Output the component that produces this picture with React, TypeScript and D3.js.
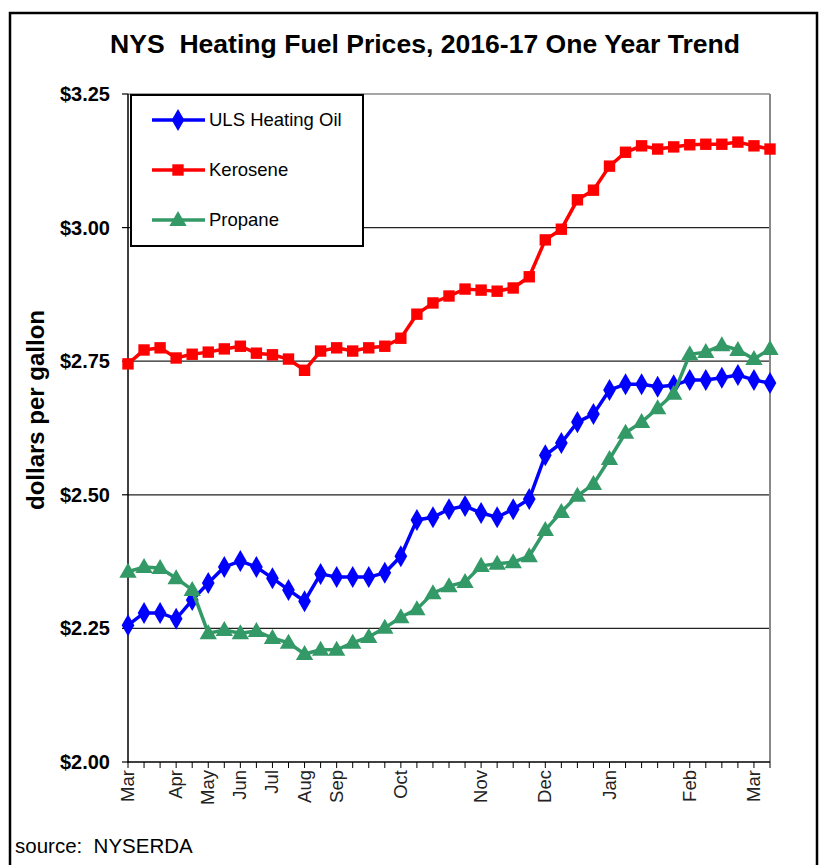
import React from "react";
import * as d3 from "d3";

const categories: string[] = [
  "Mar", "", "", "Apr", "", "May", "", "Jun", "", "Jul", "", "Aug", "", "Sep", "", "", "",
  "Oct", "", "", "", "", "Nov", "", "", "", "Dec", "", "", "", "Jan", "", "", "", "",
  "Feb", "", "", "", "Mar", "",
];

const heatingOil: number[] = [
  2.256, 2.279, 2.279, 2.268, 2.303, 2.335, 2.365, 2.376, 2.365, 2.344, 2.322, 2.301,
  2.352, 2.346, 2.346, 2.346, 2.354, 2.385, 2.453, 2.458, 2.473, 2.479, 2.466, 2.458,
  2.473, 2.492, 2.574, 2.597, 2.636, 2.651, 2.696, 2.707, 2.707, 2.702, 2.705, 2.715,
  2.715, 2.719, 2.724, 2.715, 2.709,
];

const kerosene: number[] = [
  2.745, 2.771, 2.775, 2.756, 2.763, 2.767, 2.773, 2.778, 2.765, 2.762, 2.754, 2.733,
  2.769, 2.775, 2.769, 2.775, 2.778, 2.793, 2.838, 2.859, 2.872, 2.885, 2.883, 2.881,
  2.887, 2.908, 2.977, 2.997, 3.052, 3.07, 3.115, 3.141, 3.153, 3.147, 3.151, 3.155,
  3.156, 3.156, 3.16, 3.153, 3.147,
];

const propane: number[] = [
  2.356, 2.365, 2.363, 2.344, 2.322, 2.241, 2.247, 2.241, 2.245, 2.232, 2.223, 2.202,
  2.21, 2.21, 2.223, 2.234, 2.251, 2.271, 2.286, 2.316, 2.329, 2.337, 2.367, 2.371,
  2.374, 2.385, 2.434, 2.468, 2.498, 2.52, 2.567, 2.616, 2.636, 2.662, 2.689, 2.763,
  2.767, 2.78, 2.771, 2.754, 2.773,
];

const yTicks: number[] = [2.0, 2.25, 2.5, 2.75, 3.0, 3.25];

const seriesNames = ["ULS Heating Oil", "Kerosene", "Propane"];
const seriesColors = ["#0000FF", "#FF0000", "#339966"];
const seriesShapes = [d3.symbolDiamond, d3.symbolSquare, d3.symbolTriangle];

const FONT = "'Liberation Sans', Arial, sans-serif";

export default function App() {
  const W = 825;
  const H = 865;
  const left = 128;
  const right = 770;
  const top = 94;
  const bottom = 762;

  const x = d3
    .scalePoint<number>()
    .domain(categories.map((_, i) => i))
    .range([left, right]);
  const y = d3.scaleLinear().domain([2.0, 3.25]).range([bottom, top]);

  const allSeries = [heatingOil, kerosene, propane];
  const line = d3
    .line<number>()
    .x((_, i) => x(i) as number)
    .y((d) => y(d));

  const symbolSizes = [140, 130, 130];
  const symPath = (k: number) =>
    d3.symbol().type(seriesShapes[k]).size(symbolSizes[k])() as string;

  return (
    <svg
      width={W}
      height={H}
      style={{ position: "absolute", left: 0, top: 0, background: "#fff" }}
      fontFamily={FONT}
    >
      <rect x={0} y={0} width={W} height={H} fill="#fff" />
      <rect x={10} y={13} width={807} height={870} fill="none" stroke="#000" strokeWidth={2.5} />

      <text
        x={425}
        y={53}
        textAnchor="middle"
        fontSize={25}
        fontWeight="bold"
        fill="#000"
        style={{ whiteSpace: "pre" }}
        textLength={630}
        lengthAdjust="spacingAndGlyphs"
      >
        NYS  Heating Fuel Prices, 2016-17 One Year Trend
      </text>

      {/* gridlines */}
      {yTicks
        .filter((t) => t > 2.0)
        .map((t) => (
          <line
            key={"g" + t}
            x1={left}
            x2={right}
            y1={y(t)}
            y2={y(t)}
            stroke={t === 3.25 ? "#888" : "#222"}
            strokeWidth={t === 3.25 ? 1.5 : 1.2}
          />
        ))}
      {/* right border */}
      <line x1={right} x2={right} y1={top} y2={bottom} stroke="#888" strokeWidth={2} />

      {/* y axis */}
      <line x1={left} x2={left} y1={top} y2={bottom + 1} stroke="#000" strokeWidth={1.5} />
      {yTicks.map((t) => (
        <g key={"y" + t}>
          <line x1={left - 6} x2={left} y1={y(t)} y2={y(t)} stroke="#000" strokeWidth={1.2} />
          <text
            x={110}
            y={y(t) + 7}
            textAnchor="end"
            fontSize={20}
            fontWeight="bold"
            fill="#000"
          >
            {"$" + t.toFixed(2)}
          </text>
        </g>
      ))}
      <text
        transform={`translate(44, ${410}) rotate(-90)`}
        textAnchor="middle"
        fontSize={24}
        fontWeight="bold"
        fill="#000"
      >
        dollars per gallon
      </text>

      {/* x axis */}
      <line x1={left} x2={right} y1={bottom} y2={bottom} stroke="#000" strokeWidth={1.5} />
      {categories.map((c, i) => (
        <line
          key={"xt" + i}
          x1={x(i) as number}
          x2={x(i) as number}
          y1={bottom}
          y2={bottom + 6}
          stroke="#000"
          strokeWidth={1}
        />
      ))}
      {categories.map((c, i) =>
        c ? (
          <text
            key={"xl" + i}
            transform={`translate(${(x(i) as number) + 6}, ${bottom + 8}) rotate(-90)`}
            textAnchor="end"
            fontSize={18.5}
            fill="#222"
          >
            {c}
          </text>
        ) : null
      )}

      {/* series */}
      {allSeries.map((s, k) => (
        <g key={"s" + k}>
          <path d={line(s) as string} fill="none" stroke={seriesColors[k]} strokeWidth={3.5} />
          {s.map((v, i) => (
            <path
              key={i}
              d={symPath(k)}
              transform={`translate(${x(i)}, ${y(v) + (k === 2 ? 1 : 0)})`}
              fill={seriesColors[k]}
            />
          ))}
        </g>
      ))}

      {/* legend */}
      <rect x={131} y={95} width={232} height={151} fill="#fff" stroke="#000" strokeWidth={2} />
      {seriesNames.map((n, k) => {
        const ly = 120 + k * 50;
        return (
          <g key={"l" + k}>
            <line x1={152} x2={205} y1={ly} y2={ly} stroke={seriesColors[k]} strokeWidth={3.5} />
            <path d={symPath(k)} transform={`translate(178, ${ly + (k === 2 ? 1 : 0)})`} fill={seriesColors[k]} />
            <text x={209} y={ly + 6} fontSize={18.5} fill="#000">
              {n}
            </text>
          </g>
        );
      })}

      <text x={15} y={853} fontSize={20.5} fill="#000" style={{ whiteSpace: "pre" }}>
        source:  NYSERDA
      </text>
    </svg>
  );
}
